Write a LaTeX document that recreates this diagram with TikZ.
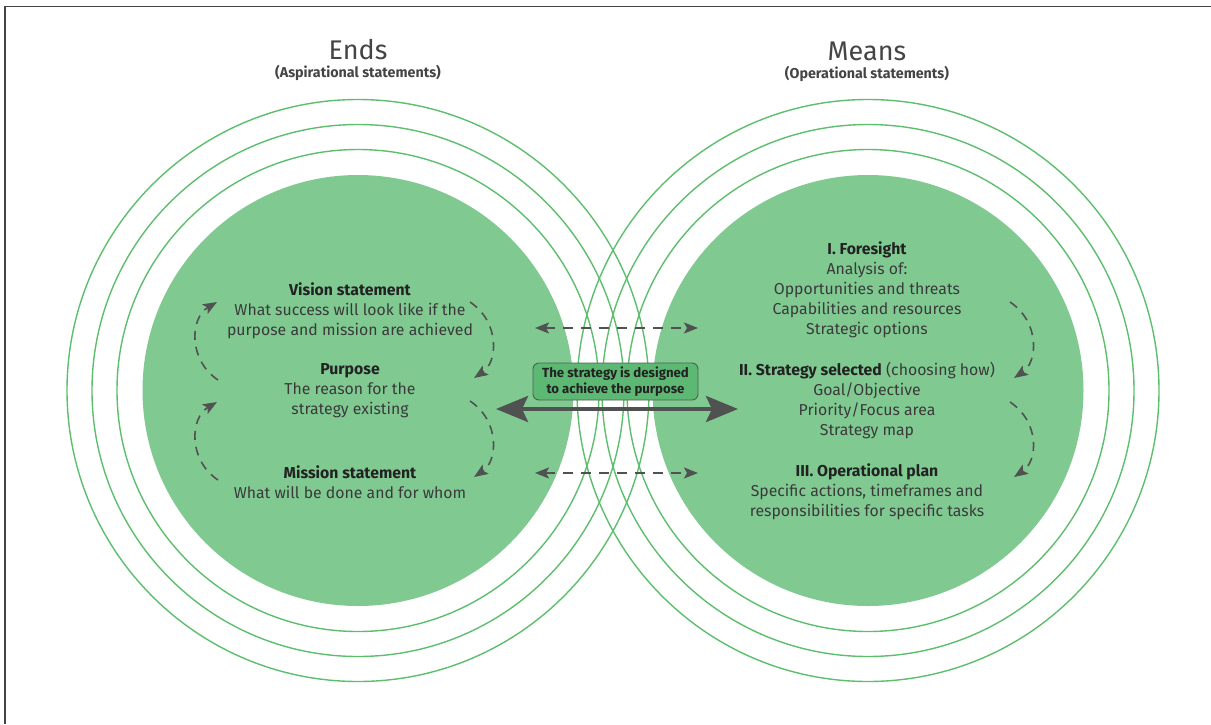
\documentclass[tikz,border=0pt]{standalone}
\usepackage{fontspec}
\setmainfont{Fira Sans}
\usetikzlibrary{arrows.meta}
\definecolor{fillg}{HTML}{80CA92}
\definecolor{ringg}{HTML}{5DBE6E}
\definecolor{boxg}{HTML}{5CB873}
\definecolor{boxline}{HTML}{4F5F52}
\definecolor{txt}{HTML}{3A3A3A}
\definecolor{head}{HTML}{222222}
\definecolor{arr}{HTML}{505252}
\definecolor{frame}{HTML}{444444}
\tikzset{
  ring/.style={draw=ringg, line width=1.4pt},
  disc/.style={fill=fillg},
  body/.style={text=txt, align=center, font=\fontsize{15.8}{20}\selectfont},
  title/.style={text=frame, font=\fontsize{27}{30}\selectfont},
  subtitle/.style={text=frame, font=\fontsize{14.3}{16}\selectfont\bfseries},
  dasharrow/.style={draw=arr, line width=1.6pt, dash pattern=on 9pt off 7pt,
     -{Stealth[length=14pt,width=11pt,inset=3pt]}},
  dasharrow2/.style={draw=arr, line width=1.6pt, dash pattern=on 10pt off 8pt,
     {Stealth[length=14pt,width=11pt,inset=3pt]}-{Stealth[length=14pt,width=11pt,inset=3pt]}},
  bigarrow/.style={draw=arr, line width=4pt,
     {Stealth[length=32pt,width=26pt,inset=6pt]}-{Stealth[length=32pt,width=26pt,inset=6pt]}},
  msgbox/.style={draw=boxline, fill=boxg, rounded corners=6pt, line width=0.9pt,
     minimum width=165pt, minimum height=37pt, align=center, text=head,
     font=\fontsize{13.2}{16.5}\selectfont\bfseries, inner sep=1pt}
}
\begin{document}
\begin{tikzpicture}[x=1pt,y=-1pt]
\useasboundingbox (0,0) rectangle (1211,724);
% frame
\draw[frame, line width=1.6pt] (5,724) -- (5,6.5) -- (1211,6.5);
% rings and discs
\foreach \c in {358,868}{
  \foreach \r in {241,266,291}{
    \draw[ring] (\c,390.5) circle[radius=\r pt];
  }
  \fill[fillg] (\c,390.5) circle[radius=215.5pt];
}
% titles
\node[title] (ends) at (358,50) {Ends};
\node[subtitle] (endsub) at (358,73) {(Aspirational statements)};
\node[title] (means) at (867,51) {Means};
\node[subtitle] (meanssub) at (867,74) {(Operational statements)};
% left texts
\node[body] (vision) at (350,311) {{\bfseries\color{head}Vision statement}\\What success will look like if the\\purpose and mission are achieved};
\node[body] (purpose) at (350,391) {{\bfseries\color{head}Purpose}\\The reason for the\\strategy existing};
\node[body] (mission) at (350,482) {{\bfseries\color{head}Mission statement}\\What will be done and for whom};
% right texts
\node[body] (foresight) at (867,290) {{\bfseries\color{head}I. Foresight}\\Analysis of:\\Opportunities and threats\\Capabilities and resources\\Strategic options};
\node[body] (strategy) at (867,400.5) {{\bfseries\color{head}II. Strategy selected} (choosing how)\\Goal/Objective\\Priority/Focus area\\Strategy map};
\node[body] (plan) at (867,492) {{\bfseries\color{head}III. Operational plan}\\Specific actions, timeframes and\\responsibilities for specific tasks};
% middle box
\node[msgbox] (msg) at (615.5,381.5) {The strategy is designed\\to achieve the purpose};
% coordinates for connectors
\coordinate (ltA) at (218,380); \coordinate (ltB) at (217,302);
\coordinate (lbA) at (218,480); \coordinate (lbB) at (217,402);
\coordinate (rtA) at (470,302); \coordinate (rtB) at (474,378);
\coordinate (rbA) at (470,401); \coordinate (rbB) at (474,477);
\coordinate (qtA) at (1010,302); \coordinate (qtB) at (1014,378);
\coordinate (qbA) at (1010,402); \coordinate (qbB) at (1014,477);
\coordinate (hL1) at (535,328); \coordinate (hR1) at (698,328);
\coordinate (hL2) at (535,473); \coordinate (hR2) at (698,473);
\coordinate (bL) at (496,409); \coordinate (bR) at (738,409);
% curved dashed arrows
\draw[dasharrow] (ltA) .. controls (188,360) and (190,318) .. (ltB);
\draw[dasharrow] (lbA) .. controls (188,460) and (190,418) .. (lbB);
\draw[dasharrow] (rtA) .. controls (500,322) and (498,362) .. (rtB);
\draw[dasharrow] (rbA) .. controls (500,421) and (498,461) .. (rbB);
\draw[dasharrow] (qtA) .. controls (1040,322) and (1038,362) .. (qtB);
\draw[dasharrow] (qbA) .. controls (1040,422) and (1038,461) .. (qbB);
% horizontal arrows
\draw[dasharrow2] (hL1) -- (hR1);
\draw[dasharrow2] (hL2) -- (hR2);
\draw[bigarrow] (bL) -- (bR);
\end{tikzpicture}
\end{document}
